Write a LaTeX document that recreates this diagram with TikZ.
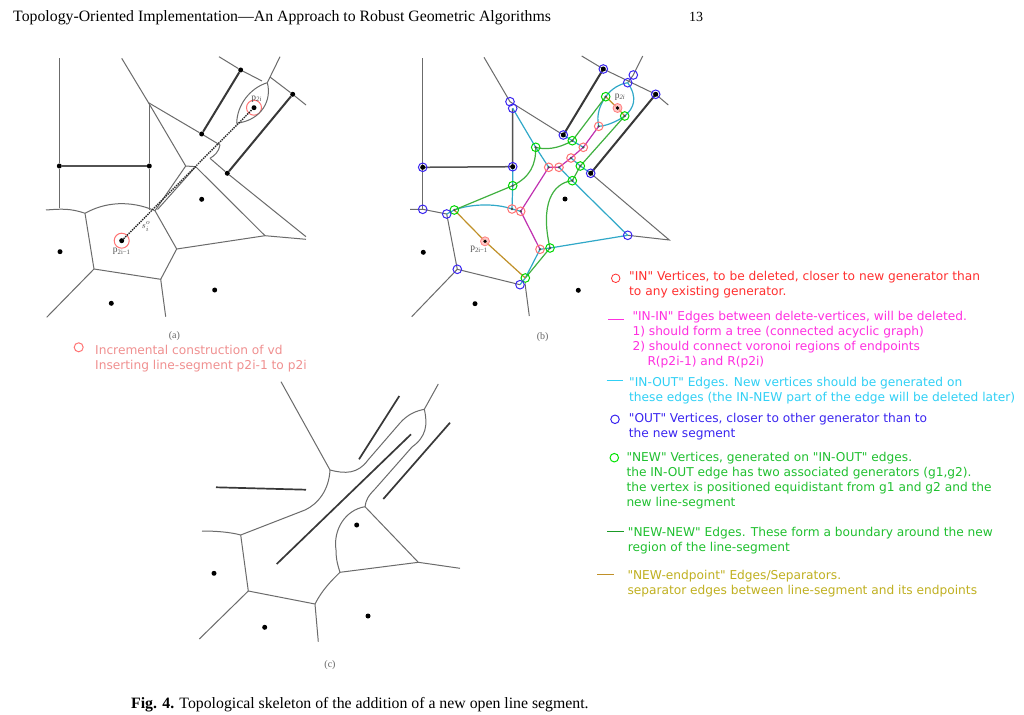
\documentclass[tikz,border=0pt]{standalone}
\usepackage{fontspec}
\setmainfont{Liberation Serif}
\newfontfamily\legfont{DejaVu Sans}
\definecolor{inred}{HTML}{FF3030}
\definecolor{inmag}{HTML}{FF30E0}
\definecolor{incyan}{HTML}{30D0F5}
\definecolor{outblue}{HTML}{3A25F0}
\definecolor{newgreen}{HTML}{20C030}
\definecolor{sepgold}{HTML}{C0B020}
\definecolor{figmag}{HTML}{C030B0}
\definecolor{figcyan}{HTML}{30A8C8}
\definecolor{figgreen}{HTML}{40B040}
\definecolor{figgold}{HTML}{C09028}
\definecolor{pinktext}{HTML}{F09090}
\tikzset{
  edgeline/.style={draw=black!58,line width=1pt},
  thickline/.style={draw=black!78,line width=2pt},
  midline/.style={draw=black!68,line width=1.5pt},
  gen/.style={fill=black,circle,inner sep=0pt,minimum size=5pt},
  vdot/.style={fill=black!70,circle,inner sep=0pt,minimum size=2.6pt},
  legtext/.style={font=\legfont\fontsize{12.2}{15}\selectfont,anchor=base west,inner sep=0pt,align=left},
  paper/.style={font=\fontsize{15.8}{18}\selectfont,anchor=base west,inner sep=0pt},
  sublabel/.style={font=\fontsize{10}{11}\selectfont,text=black!60,inner sep=0pt},
  plabel/.style={font=\fontsize{9.5}{10}\selectfont,text=black!70,inner sep=0pt},
  redring/.style={draw=red!55!white,line width=1pt,circle,inner sep=0pt,minimum size=8.6pt},
  bluering/.style={draw=outblue,line width=1pt,circle,inner sep=0pt,minimum size=8.6pt},
  greenring/.style={draw=green!85!black,line width=1pt,circle,inner sep=0pt,minimum size=8.6pt},
  pinkring/.style={draw=red!50!white,fill=red!30!white,line width=0.8pt,circle,inner sep=0pt,minimum size=9pt},
  iredge/.style={draw=figmag,line width=1.2pt},
  ioedge/.style={draw=figcyan,line width=1.2pt},
  nnedge/.style={draw=figgreen,line width=1.2pt},
  sepedge/.style={draw=figgold,line width=1.2pt},
}
\begin{document}
\begin{tikzpicture}[x=1pt,y=-1pt]
\useasboundingbox[fill=white] (0,0) rectangle (1024,714);
% header and caption
\node[paper] (hdr) at (13,22) {Topology-Oriented Implementation---An Approach to Robust Geometric Algorithms};
\node[paper,font=\fontsize{14}{16}\selectfont] (pg) at (689,22) {13};
\node[paper] (cap) at (131,708) {\textbf{Fig. 4.} Topological skeleton of the addition of a new open line segment.};

%% ---------- panel (a)
\coordinate (a1) at (148.5,102.7);
\coordinate (a2) at (185.7,166);
\coordinate (a3) at (195.7,166.7);
\coordinate (a4) at (265,235.7);
\coordinate (a5) at (176.7,249);
\coordinate (a6) at (155,210.7);
\coordinate (a7) at (85,213.3);
\coordinate (a8) at (94,269);
\coordinate (a9) at (160.7,279.3);
\coordinate (a10) at (267.3,82.7);
\coordinate (a11) at (236.7,123.3);
\coordinate (a12) at (220,145);
\coordinate (a13) at (210,158.3);
\node[gen] (aA) at (59.3,166) {};
\node[gen] (aB) at (149.3,166) {};
\node[gen] (aC) at (201.7,134) {};
\node[gen] (aD) at (240.7,70) {};
\node[gen] (aE) at (292.7,94.3) {};
\node[gen] (aF) at (227.3,173.3) {};
\node[gen] (aP) at (121.7,240.7) {};
\node[gen] (aQ) at (254,107.7) {};
\node[gen] at (201.7,199.3) {};
\node[gen] at (60,251.7) {};
\node[gen] at (111.3,303.3) {};
\node[gen] at (214.7,290) {};
\node[redring,minimum size=15pt] at (aP) {};
\node[redring,minimum size=15pt] at (aQ) {};
\draw[edgeline] (59.3,58.3) -- (aA) -- (59.3,208);
\draw[midline] (aA) -- (aB);
\draw[edgeline] (149.3,103.3) -- (aB) -- (149.3,210);
\draw[edgeline] (121.7,58.3) -- (a1) -- (aC) -- (a12);
\draw[edgeline] (a13) -- (aF) -- (306,236.7);
\draw[edgeline] (a1) -- (a2) -- (a3) -- (a4) -- (306,239.3);
\draw[edgeline] (a4) -- (a5) -- (a6);
\draw[edgeline] (a2) -- (a6);
\draw[edgeline] (a3) -- (157.5,209.5);
\draw[edgeline] (a6) .. controls (130,200) and (105,202) .. (a7);
\draw[edgeline] (a7) .. controls (70,208) and (60,209) .. (46,210);
\draw[edgeline] (a7) -- (a8) -- (a9) -- (a5);
\draw[edgeline] (a9) -- (165.7,316.7);
\draw[edgeline] (a8) -- (46.7,317.3);
\draw[edgeline] (219,56.7) -- (aD) -- (262,81) (270,77) -- (aE) -- (306,105);
\draw[edgeline] (280,56.7) -- (a10);
\draw[edgeline] (a10) .. controls (250,88) and (237,105) .. (a11);
\draw[edgeline] (a10) .. controls (272,100) and (262,120) .. (a11);
\draw[edgeline] (a12) .. controls (219,152) and (214,156) .. (a13);
\draw[thickline] (aD) -- (aC);
\draw[thickline] (aE) -- (aF);
\draw[line width=1.4pt,densely dotted,black!85] (aP) -- (aQ);
\node[plabel] at (256.7,99.3) {p\textsubscript{\itshape 2i}};
\node[plabel] at (121.7,251.5) {p\textsubscript{2i−1}};
\node[plabel] at (146,226.5) {$s_i^o$};
\node[sublabel] at (174.3,336.5) {(a)};
\node[redring,minimum size=9pt] (aleg) at (78.7,347.3) {};
\node[legtext,text=pinktext] (atext) at (95,369) {Incremental construction of vd\\Inserting line-segment p2i-1 to p2i};

%% ---------- panel (b)
\coordinate (o1) at (603.3,69);
\coordinate (o2) at (633.3,75);
\coordinate (o3) at (627.7,82.7);
\coordinate (o4) at (655.7,94.3);
\coordinate (o5) at (510,101.7);
\coordinate (o6) at (512.7,108.3);
\coordinate (o7) at (563.3,135);
\coordinate (o8) at (590.7,173.3);
\coordinate (o9) at (422.7,167.3);
\coordinate (o10) at (512.7,166.7);
\coordinate (o11) at (422.7,209.3);
\coordinate (o12) at (446.7,214);
\coordinate (o13) at (627.7,235.3);
\coordinate (o14) at (457.3,269.3);
\coordinate (o15) at (520,284.7);
\coordinate (n1) at (605.7,96.7);
\coordinate (n2) at (624.7,116);
\coordinate (n3) at (572.3,140.7);
\coordinate (n4) at (535.7,147.3);
\coordinate (n5) at (580.3,166);
\coordinate (n6) at (572.3,180.7);
\coordinate (n7) at (512.7,185.7);
\coordinate (n8) at (454.3,210);
\coordinate (n9) at (550,248);
\coordinate (n10) at (525.3,278);
\coordinate (i1) at (598.7,126.3);
\coordinate (i2) at (583.3,147.3);
\coordinate (i3) at (571,158);
\coordinate (i4) at (559,167.3);
\coordinate (i5) at (548.7,167.3);
\coordinate (i6) at (512,209);
\coordinate (i7) at (520.7,211.3);
\coordinate (i8) at (540,249.3);
\coordinate (e1) at (617.5,108);
\coordinate (e2) at (485,241.3);
\draw[edgeline] (422.7,58.3) -- (o9) -- (o11);
\draw[midline] (o9) -- (o10) -- (o6);
\draw[edgeline] (484,57.3) -- (o5) -- (o7);
\draw[thickline] (o1) -- (o7);
\draw[thickline] (o4) -- (o8);
\draw[edgeline] (581.7,56) -- (o1) -- (o4) -- (668.3,105);
\draw[edgeline] (642.7,56) -- (o2) -- (o3);
\draw[edgeline] (o8) -- (669.3,240) -- (o13);
\draw[edgeline] (410,209.3) -- (o11) -- (o12) -- (o14) -- (o15);
\draw[edgeline] (o14) -- (411.7,316.7);
\draw[edgeline] (525,283.3) -- (529.3,316);
\draw[ioedge] (o6) -- (n4) -- (i5);
\draw[ioedge] (i4) -- (n6) -- (o13);
\draw[ioedge] (i3) -- (n5) -- (o8);
\draw[ioedge] (i2) -- (n3) -- (o7);
\draw[ioedge] (o10) -- (n7) -- (i6);
\draw[ioedge] (i8) -- (n9) -- (o13);
\draw[ioedge] (i8) -- (n10) -- (o15);
\draw[ioedge] (i6) .. controls (495,203) and (470,204) .. (n8) -- (o12);
\draw[ioedge] (i6) -- (i7);
\draw[ioedge] (i1) .. controls (596,115) and (600,105) .. (n1) .. controls (612,88) and (620,84) .. (o3);
\draw[ioedge] (o3) .. controls (638,98) and (634,108) .. (n2) .. controls (616,122) and (606,126) .. (i1);
\draw[iredge] (i1) -- (i2) -- (i3) -- (i4) -- (i5) -- (i7) -- (i8);
\draw[nnedge] (n1) -- (n3);
\draw[nnedge] (n3) .. controls (558,149) and (545,150) .. (n4);
\draw[nnedge] (n4) .. controls (536,165) and (530,177) .. (n7);
\draw[nnedge] (n7) -- (n8);
\draw[nnedge] (n2) -- (n5) -- (n6);
\draw[nnedge] (n6) .. controls (552,183) and (540,205) .. (n9);
\draw[nnedge] (n9) -- (n10);
\draw[sepedge] (n8) -- (e2) -- (n10);
\draw[sepedge] (n1) -- (e1) -- (n2);
\foreach \g in {o1,o4,o7,o8,o9,o10} \node[gen] at (\g) {};
\node[gen] at (565,199) {};
\node[gen] at (423.3,252.3) {};
\node[gen] at (475,303.7) {};
\node[gen] at (578.3,290.3) {};
\foreach \g in {i1,i2,i3,i4,i5,i6,i7,i8,n3,n4,n5,n6,n7,n8,n9,n2,n1} \node[vdot] at (\g) {};
\foreach \g in {i1,i2,i3,i4,i5,i6,i7,i8} \node[redring] at (\g) {};
\foreach \g in {n1,n2,n3,n4,n5,n6,n7,n8,n9,n10} \node[greenring] at (\g) {};
\foreach \g in {o1,o2,o3,o4,o5,o6,o7,o8,o9,o10,o11,o12,o13,o14,o15} \node[bluering] at (\g) {};
\node[pinkring,fill opacity=0.7] at (e1) {};
\node[pinkring,fill opacity=0.7] at (e2) {};
\node[gen,minimum size=3.6pt] at (e1) {};
\node[gen,minimum size=3.6pt] at (e2) {};
\node[plabel] at (620,97) {p\textsubscript{\itshape 2i}};
\node[plabel] at (479,249.5) {p\textsubscript{2i−1}};
\node[sublabel] at (542.7,337.3) {(b)};

%% ---------- panel (c)
\coordinate (c1) at (330,470);
\coordinate (c2) at (424.3,409.3);
\coordinate (c3) at (365,506.7);
\coordinate (c4) at (240.7,535);
\coordinate (c5) at (248.3,591);
\coordinate (c6) at (315,604);
\coordinate (c7) at (340,572.3);
\coordinate (c8) at (418.3,562.3);
\draw[edgeline] (281,381.7) -- (c1);
\draw[edgeline] (c1) .. controls (345,474) and (358,474) .. (368,460) -- (400,423) .. controls (408,414) and (416,411) .. (c2);
\draw[edgeline] (438.3,384) -- (c2);
\draw[edgeline] (c2) .. controls (428,425) and (426,437) .. (412,447) -- (375,489) .. controls (368,496) and (366,500) .. (c3);
\draw[edgeline] (c1) .. controls (329,490) and (318,504) .. (305,510) -- (c4);
\draw[edgeline] (c4) .. controls (230,532) and (215,531) .. (202,531);
\draw[edgeline] (c4) -- (c5) -- (c6);
\draw[edgeline] (c5) -- (199.3,639);
\draw[edgeline] (c6) -- (318.3,641.7);
\draw[edgeline] (c6) .. controls (322,590) and (332,580) .. (c7);
\draw[edgeline] (c7) -- (c8) -- (460,568.3);
\draw[edgeline] (c8) -- (c3);
\draw[edgeline] (c3) .. controls (345,510) and (333,530) .. (336,550) .. controls (336,560) and (338,566) .. (c7);
\draw[thickline,line width=1.7pt] (216,487.3) -- (306,489.7);
\draw[thickline,line width=1.7pt] (359,459.3) -- (399.3,396);
\draw[thickline,line width=1.7pt] (383.3,499) -- (450,422.7);
\draw[thickline,line width=1.7pt] (276.7,564) -- (411,434.3);
\node[gen] at (356.7,525) {};
\node[gen] at (214,573.3) {};
\node[gen] at (264.7,627.3) {};
\node[gen] at (368,616) {};
\node[sublabel] at (330,665) {(c)};

%% ---------- legend
\node[draw=inred,line width=0.8pt,circle,inner sep=0pt,minimum size=8.5pt] (lin) at (615.7,278.3) {};
\node[legtext,text=inred] (tin) at (629,295.5) {"IN" Vertices, to be deleted, closer to new generator than\\to any existing generator.};
\coordinate (l1a) at (608.3,319.3); \coordinate (l1b) at (624.3,319.3);
\draw[draw=inmag,line width=0.7pt] (l1a) -- (l1b);
\node[legtext,text=inmag] (tii) at (632.3,365) {"IN-IN" Edges between delete-vertices, will be deleted.\\1) should form a tree (connected acyclic graph)\\2) should connect voronoi regions of endpoints\\\hspace*{15pt}R(p2i-1) and R(p2i)};
\coordinate (l2a) at (606.7,380.7); \coordinate (l2b) at (623.3,380.7);
\draw[draw=incyan,line width=0.7pt] (l2a) -- (l2b);
\node[legtext,text=incyan] (tio) at (629,401) {"IN-OUT" Edges. New vertices should be generated on\\these edges (the IN-NEW part of the edge will be deleted later)};
\node[draw=outblue,line width=1pt,circle,inner sep=0pt,minimum size=8.5pt] (lout) at (615,419.3) {};
\node[legtext,text=outblue] (tout) at (628.7,437) {"OUT" Vertices, closer to other generator than to\\the new segment};
\node[draw=green!90!black,line width=1pt,circle,inner sep=0pt,minimum size=8.5pt] (lnew) at (614.3,457.7) {};
\node[legtext,text=newgreen] (tnew) at (626.3,506) {"NEW" Vertices, generated on "IN-OUT" edges.\\the IN-OUT edge has two associated generators (g1,g2).\\the vertex is positioned equidistant from g1 and g2 and the\\new line-segment};
\coordinate (l3a) at (607.3,531.3); \coordinate (l3b) at (624,531.3);
\draw[draw=newgreen!80!black,line width=0.7pt] (l3a) -- (l3b);
\node[legtext,text=newgreen] (tnn) at (627.7,551) {"NEW-NEW" Edges. These form a boundary around the new\\region of the line-segment};
\coordinate (l4a) at (597.3,574); \coordinate (l4b) at (614,574);
\draw[draw=figgold,line width=0.7pt] (l4a) -- (l4b);
\node[legtext,text=sepgold] (tsep) at (627.3,594) {"NEW-endpoint" Edges/Separators.\\separator edges between line-segment and its endpoints};
\end{tikzpicture}
\end{document}
